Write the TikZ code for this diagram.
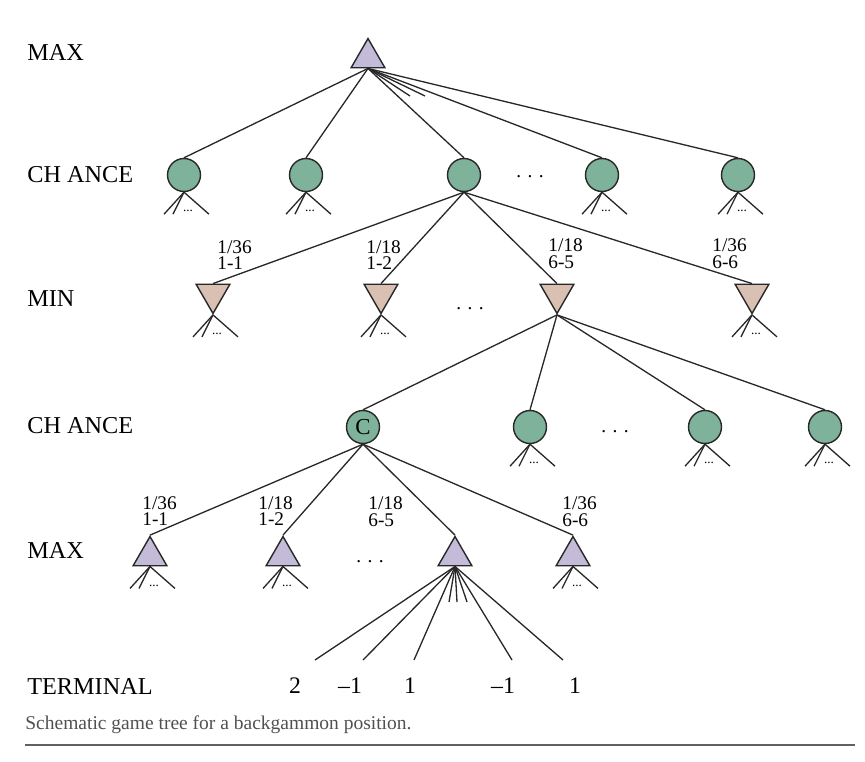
\documentclass[tikz,border=0pt]{standalone}
\usepackage{fontspec}
\setmainfont{Liberation Serif}
\usepackage{tikz}
\usetikzlibrary{shapes.geometric}
\definecolor{maxfill}{RGB}{196,187,216}
\definecolor{minfill}{RGB}{218,192,178}
\definecolor{chancefill}{RGB}{126,178,154}
\definecolor{linegray}{RGB}{40,40,40}
\definecolor{capgray}{RGB}{80,80,80}
\tikzstyle{maxnode}=[regular polygon,regular polygon sides=3,draw=linegray,line width=0.8pt,fill=maxfill,minimum size=0.78cm,inner sep=0pt]
\tikzstyle{minnode}=[maxnode,fill=minfill,shape border rotate=180]
\tikzstyle{chancenode}=[circle,draw=linegray,line width=0.8pt,fill=chancefill,minimum size=0.66cm,inner sep=0pt,font=\fontsize{13}{14}\selectfont]
\tikzstyle{branch}=[draw=linegray,line width=0.75pt]
\tikzstyle{levelname}=[anchor=west,inner sep=0pt,font=\fontsize{13.8}{15}\selectfont]
\tikzstyle{prob}=[anchor=west,align=left,inner sep=0pt,font=\fontsize{11}{9.5}\selectfont]
\tikzstyle{gap}=[font=\fontsize{11}{13}\selectfont]
\tikzstyle{value}=[font=\fontsize{13.5}{15}\selectfont]
\tikzstyle{more}=[font=\fontsize{7.5}{8}\selectfont,inner sep=0pt]

% three short branches and dots below a node
\newcommand{\fanout}[1]{%
  \coordinate (#1-a) at ([shift={(-20,22)}]#1.south);
  \coordinate (#1-b) at ([shift={(-11,22)}]#1.south);
  \coordinate (#1-c) at ([shift={(25,22)}]#1.south);
  \draw[branch] (#1.south) -- (#1-a);
  \draw[branch] (#1.south) -- (#1-b);
  \draw[branch] (#1.south) -- (#1-c);
  \node[more] (#1-d) at ([shift={(4,19)}]#1.south) {...};
}

\begin{document}
\begin{tikzpicture}[x=0.02cm,y=-0.02cm]
  \useasboundingbox (0,0) rectangle (865,761);

  % level names
  \node[levelname] (l1) at (27,52) {MAX};
  \node[levelname] (l2) at (27,175) {CH ANCE};
  \node[levelname] (l3) at (27,299) {MIN};
  \node[levelname] (l4) at (27,426) {CH ANCE};
  \node[levelname] (l5) at (27,550) {MAX};
  \node[levelname] (l6) at (27,686) {TERMINAL};

  % top
  \node[maxnode] (root) at (368,58) {};

  \node[chancenode] (ch1) at (184,175) {};
  \node[chancenode] (ch2) at (306,175) {};
  \node[chancenode] (ch3) at (464,175) {};
  \node[chancenode] (ch4) at (602,175) {};
  \node[chancenode] (ch5) at (738,175) {};
  \node[gap] (g1) at (530,177) {. . .};

  \foreach \n in {ch1,ch2,ch3,ch4,ch5}
    \draw[branch] (root.south) -- (\n.north);
  \coordinate (r-a) at (410,96);
  \coordinate (r-b) at (425,96);
  \draw[branch] (root.south) -- (r-a);
  \draw[branch] (root.south) -- (r-b);

  \fanout{ch1}
  \fanout{ch2}
  \fanout{ch4}
  \fanout{ch5}

  % min level
  \node[minnode] (mn1) at (213,294) {};
  \node[minnode] (mn2) at (381,294) {};
  \node[minnode] (mn3) at (557,294) {};
  \node[minnode] (mn4) at (752,294) {};
  \node[gap] (g2) at (470,309) {. . .};

  \foreach \n in {mn1,mn2,mn3,mn4}
    \draw[branch] (ch3.south) -- (\n.north);

  \node[prob] (p1) at (217,255) {1/36\\1-1};
  \node[prob] (p2) at (366,255) {1/18\\1-2};
  \node[prob] (p3) at (548,254) {1/18\\6-5};
  \node[prob] (p4) at (712,254) {1/36\\6-6};

  \fanout{mn1}
  \fanout{mn2}
  \fanout{mn4}

  % second chance level
  \node[chancenode] (cc) at (363,427) {C};
  \node[chancenode] (ch7) at (530,427) {};
  \node[chancenode] (ch8) at (705,427) {};
  \node[chancenode] (ch9) at (825,427) {};
  \node[gap] (g3) at (615,432) {. . .};

  \foreach \n in {cc,ch7,ch8,ch9}
    \draw[branch] (mn3.south) -- (\n.north);

  \fanout{ch7}
  \fanout{ch8}
  \fanout{ch9}

  % second max level
  \node[maxnode] (mx1) at (150,556) {};
  \node[maxnode] (mx2) at (283,556) {};
  \node[maxnode] (mx3) at (455,556) {};
  \node[maxnode] (mx4) at (573,556) {};
  \node[gap] (g4) at (370,562) {. . .};

  \foreach \n in {mx1,mx2,mx3,mx4}
    \draw[branch] (cc.south) -- (\n.north);

  \node[prob] (q1) at (142,511) {1/36\\1-1};
  \node[prob] (q2) at (258,511) {1/18\\1-2};
  \node[prob] (q3) at (368,512) {1/18\\6-5};
  \node[prob] (q4) at (562,512) {1/36\\6-6};

  \fanout{mx1}
  \fanout{mx2}
  \fanout{mx4}

  % terminal
  \coordinate (t1) at (315,660);
  \coordinate (t2) at (363,660);
  \coordinate (t3) at (414,660);
  \coordinate (t4) at (512,660);
  \coordinate (t5) at (563,660);
  \coordinate (s1) at (449,602);
  \coordinate (s2) at (457,602);
  \coordinate (s3) at (467,602);
  \foreach \n in {t1,t2,t3,t4,t5,s1,s2,s3}
    \draw[branch] (mx3.south) -- (\n);

  \node[value] (v1) at (295,686) {2};
  \node[value] (v2) at (350,686) {–1};
  \node[value] (v3) at (410,686) {1};
  \node[value] (v4) at (503,686) {–1};
  \node[value] (v5) at (575,686) {1};

  % caption
  \node[anchor=west,text=capgray,font=\fontsize{11.1}{13}\selectfont,inner sep=0pt] (cap) at (25,725) {Schematic game tree for a backgammon position.};
  \draw[capgray!90,line width=0.04cm] (25,745) -- (855,745);

\end{tikzpicture}
\end{document}
